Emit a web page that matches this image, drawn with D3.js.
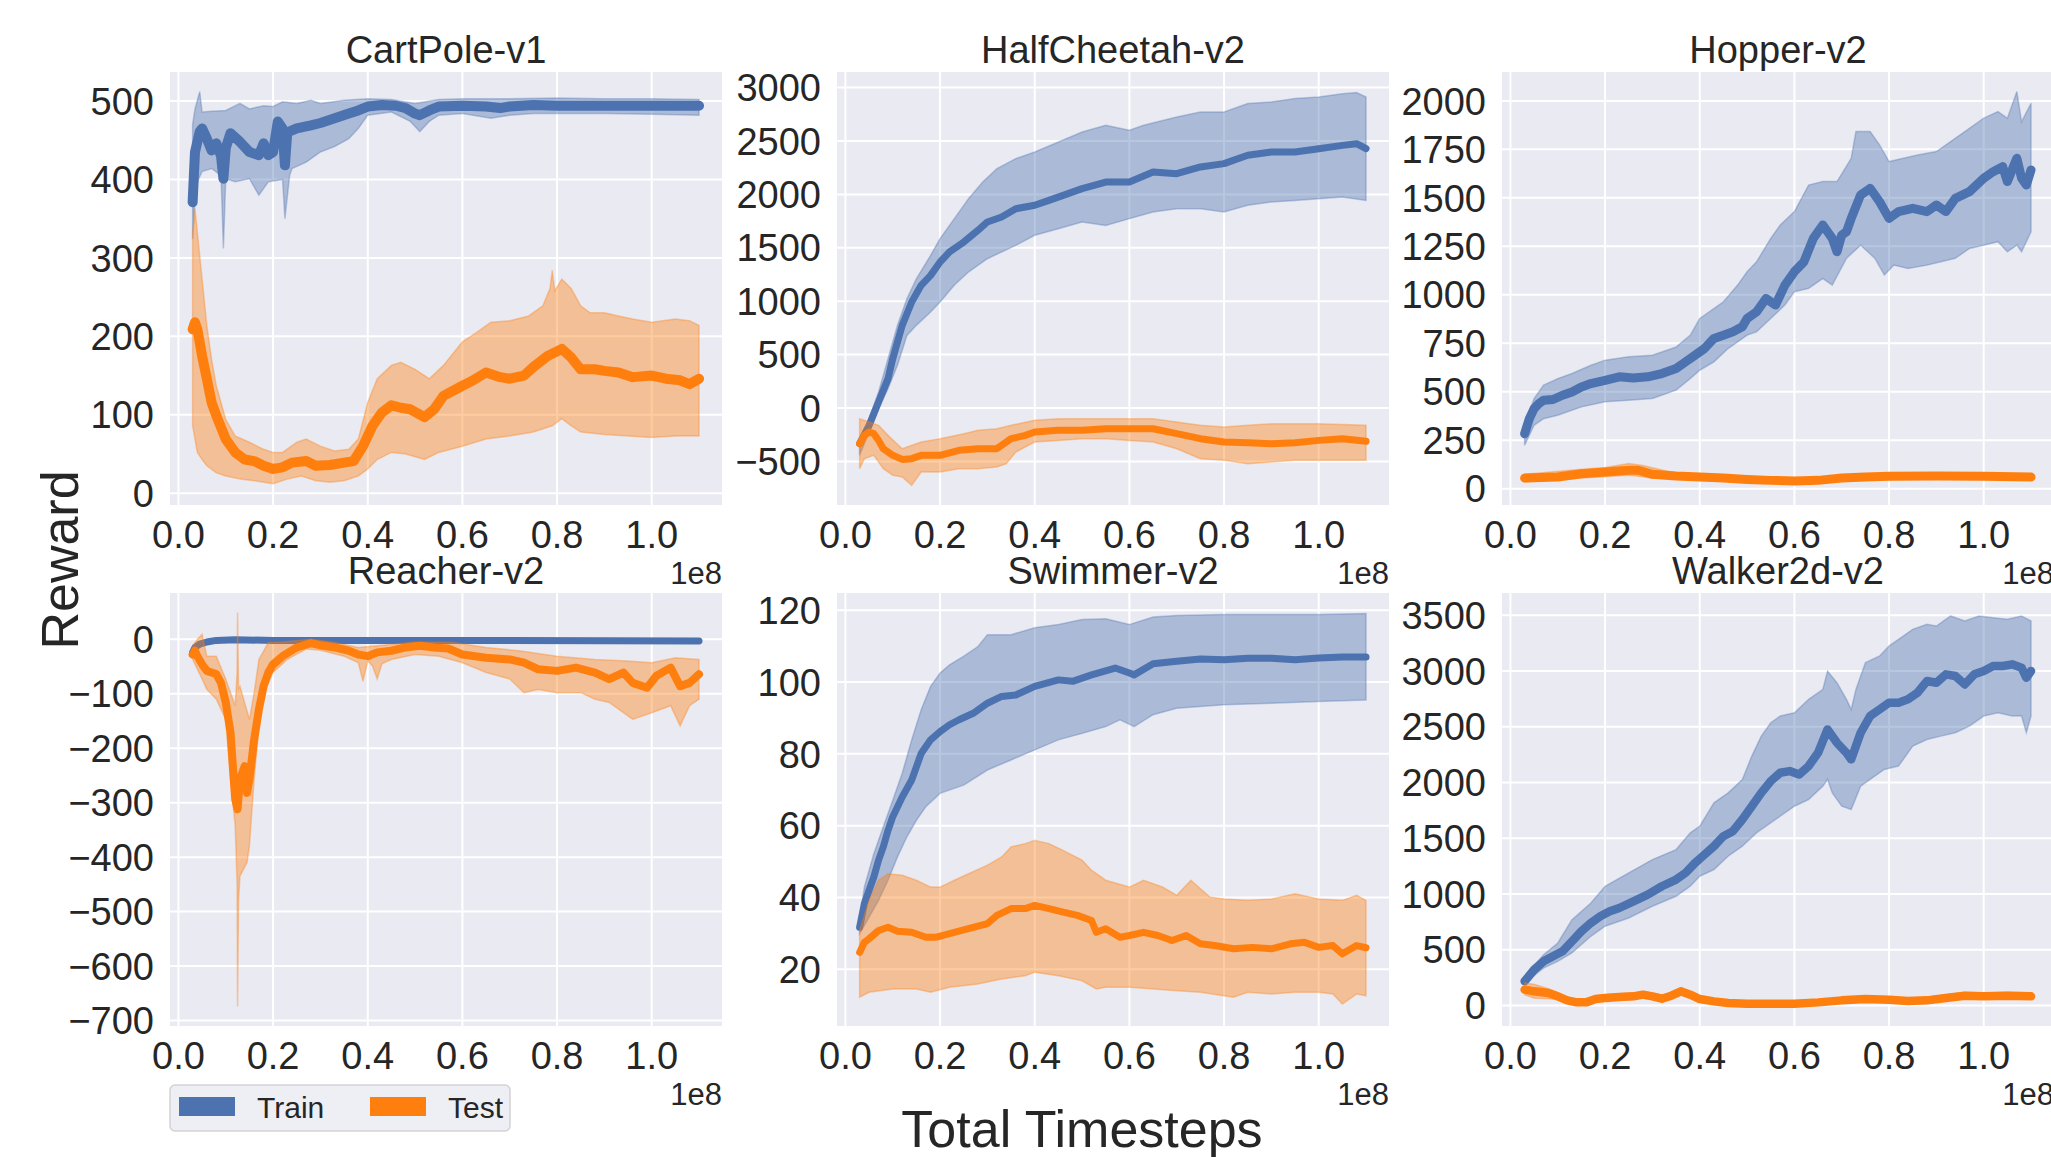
<!DOCTYPE html>
<html>
<head>
<meta charset="utf-8">
<script src="https://cdn.jsdelivr.net/npm/d3@7/dist/d3.min.js"></script>
<style>
  body { margin: 0; background: #fff; }
  text { font-family: "Liberation Sans", Arial, sans-serif; fill: #262626; }
</style>
</head>
<body>
<div id="chart"></div>
<script>
// x values are total timesteps in units of 1e8, y values are rewards

// CartPole-v1
const cartTrainMean = [[0.03,371],[0.035,435],[0.045,461],[0.05,465],[0.06,452],[0.07,437],[0.08,446],[0.09,430],[0.095,401],[0.1,440],[0.11,459],[0.13,448],[0.15,435],[0.17,431],[0.18,446],[0.19,431],[0.2,435],[0.21,474],[0.22,465],[0.225,418],[0.23,460],[0.25,465],[0.28,469],[0.3,472],[0.33,478],[0.36,484],[0.38,488],[0.4,493],[0.43,495],[0.46,494],[0.48,491],[0.5,484],[0.51,482],[0.53,488],[0.55,493],[0.6,494],[0.65,493],[0.68,491],[0.7,493],[0.75,495],[0.8,494],[0.9,494],[1.0,494],[1.1,494]];
const cartTrainHi = [[0.03,470],[0.035,490],[0.045,512],[0.05,486],[0.07,487],[0.1,488],[0.13,497],[0.15,490],[0.18,494],[0.2,493],[0.22,499],[0.25,497],[0.28,501],[0.3,497],[0.35,501],[0.4,503],[0.45,502],[0.5,497],[0.55,502],[0.6,503],[0.7,503],[0.8,504],[0.9,503],[1.0,503],[1.1,502]];
const cartTrainLo = [[0.03,324],[0.035,376],[0.04,397],[0.05,410],[0.07,414],[0.09,405],[0.095,312],[0.1,401],[0.12,397],[0.15,401],[0.17,380],[0.19,397],[0.22,400],[0.225,350],[0.235,405],[0.24,414],[0.27,422],[0.3,435],[0.33,442],[0.36,452],[0.38,465],[0.4,482],[0.45,486],[0.49,474],[0.51,461],[0.53,474],[0.55,482],[0.6,484],[0.66,478],[0.7,482],[0.75,484],[0.8,484],[0.9,484],[1.0,483],[1.1,482]];
const cartTestMean = [[0.03,209],[0.035,218],[0.04,209],[0.05,175],[0.06,146],[0.07,116],[0.08,99],[0.1,69],[0.12,52],[0.14,43],[0.16,41],[0.18,35],[0.2,31],[0.22,33],[0.24,39],[0.27,41],[0.29,35],[0.32,36],[0.35,39],[0.37,41],[0.39,60],[0.41,86],[0.43,103],[0.45,112],[0.47,109],[0.49,107],[0.52,97],[0.54,107],[0.56,124],[0.6,137],[0.62,143],[0.65,154],[0.68,148],[0.7,146],[0.73,150],[0.75,161],[0.78,175],[0.81,184],[0.83,173],[0.85,158],[0.88,158],[0.9,156],[0.93,154],[0.96,148],[1.0,150],[1.03,146],[1.06,144],[1.08,139],[1.1,146]];
const cartTestHi = [[0.03,333],[0.035,363],[0.04,333],[0.05,273],[0.06,214],[0.07,171],[0.08,137],[0.1,94],[0.12,73],[0.15,65],[0.18,56],[0.2,52],[0.22,52],[0.25,65],[0.27,69],[0.3,60],[0.33,54],[0.36,56],[0.38,69],[0.4,116],[0.42,146],[0.45,163],[0.47,167],[0.5,158],[0.53,146],[0.56,163],[0.6,193],[0.63,205],[0.66,218],[0.7,220],[0.74,226],[0.77,239],[0.785,261],[0.79,284],[0.795,258],[0.81,273],[0.83,261],[0.85,239],[0.87,230],[0.9,230],[0.93,226],[0.96,222],[1.0,218],[1.05,222],[1.08,220],[1.1,214]];
const cartTestLo = [[0.03,86],[0.035,69],[0.04,52],[0.05,43],[0.06,35],[0.08,26],[0.1,22],[0.13,18],[0.16,16],[0.2,12],[0.23,18],[0.26,22],[0.29,16],[0.32,14],[0.35,16],[0.38,22],[0.4,31],[0.42,43],[0.45,52],[0.48,50],[0.52,43],[0.55,52],[0.6,60],[0.65,69],[0.7,73],[0.75,78],[0.79,86],[0.81,95],[0.83,86],[0.85,78],[0.9,75],[0.95,73],[1.0,71],[1.05,73],[1.1,73]];

// HalfCheetah-v2
const cheetahTrainMean = [[0.03,-334],[0.05,-162],[0.07,56],[0.09,275],[0.1,462],[0.11,618],[0.12,774],[0.14,993],[0.16,1149],[0.18,1242],[0.2,1367],[0.22,1461],[0.25,1554],[0.28,1664],[0.3,1742],[0.33,1788],[0.36,1866],[0.4,1898],[0.43,1944],[0.46,1991],[0.5,2054],[0.55,2116],[0.6,2116],[0.65,2210],[0.7,2194],[0.75,2257],[0.8,2288],[0.85,2366],[0.9,2397],[0.95,2397],[1.0,2428],[1.05,2459],[1.08,2475],[1.1,2428]];
const cheetahTrainHi = [[0.03,-334],[0.05,-100],[0.07,150],[0.09,462],[0.11,774],[0.13,1024],[0.15,1211],[0.18,1430],[0.2,1586],[0.23,1773],[0.26,1960],[0.29,2116],[0.32,2241],[0.36,2335],[0.4,2397],[0.45,2491],[0.5,2584],[0.55,2647],[0.6,2600],[0.63,2647],[0.7,2725],[0.75,2772],[0.8,2772],[0.85,2850],[0.9,2865],[0.95,2897],[1.0,2912],[1.05,2943],[1.08,2953],[1.1,2912]];
const cheetahTrainLo = [[0.03,-443],[0.05,-225],[0.07,-6],[0.09,181],[0.11,400],[0.13,680],[0.15,774],[0.18,899],[0.2,993],[0.23,1149],[0.26,1273],[0.3,1398],[0.33,1461],[0.36,1523],[0.4,1617],[0.45,1679],[0.5,1742],[0.55,1710],[0.6,1773],[0.65,1835],[0.7,1866],[0.75,1866],[0.8,1835],[0.85,1898],[0.9,1929],[0.95,1944],[1.0,1960],[1.05,1976],[1.1,1944]];
const cheetahTestMean = [[0.03,-334],[0.04,-256],[0.05,-225],[0.06,-240],[0.07,-303],[0.08,-381],[0.1,-443],[0.12,-481],[0.14,-474],[0.16,-443],[0.2,-443],[0.24,-396],[0.28,-381],[0.32,-381],[0.35,-287],[0.38,-256],[0.4,-225],[0.45,-209],[0.5,-209],[0.55,-194],[0.6,-194],[0.65,-194],[0.7,-240],[0.75,-287],[0.8,-318],[0.85,-325],[0.9,-334],[0.95,-325],[1.0,-303],[1.05,-287],[1.1,-312]];
const cheetahTestHi = [[0.03,-100],[0.05,-131],[0.07,-162],[0.09,-256],[0.12,-381],[0.16,-318],[0.2,-287],[0.25,-240],[0.28,-209],[0.32,-194],[0.35,-162],[0.4,-115],[0.45,-100],[0.55,-100],[0.6,-100],[0.65,-100],[0.7,-131],[0.75,-162],[0.8,-178],[0.85,-162],[0.9,-147],[0.95,-147],[1.0,-147],[1.1,-162]];
const cheetahTestLo = [[0.03,-568],[0.04,-474],[0.06,-443],[0.08,-568],[0.1,-630],[0.12,-646],[0.14,-724],[0.16,-599],[0.2,-599],[0.24,-568],[0.28,-568],[0.32,-552],[0.34,-521],[0.36,-412],[0.4,-318],[0.45,-303],[0.5,-287],[0.55,-287],[0.6,-303],[0.65,-318],[0.7,-381],[0.75,-474],[0.8,-490],[0.85,-521],[0.9,-506],[0.95,-490],[1.0,-490],[1.1,-490]];

// Hopper-v2
const hopperTrainMean = [[0.03,284],[0.04,361],[0.05,413],[0.06,439],[0.07,456],[0.09,460],[0.11,482],[0.13,499],[0.15,525],[0.17,542],[0.2,559],[0.23,577],[0.26,571],[0.29,577],[0.32,594],[0.35,620],[0.37,654],[0.39,688],[0.41,723],[0.43,775],[0.45,792],[0.47,809],[0.49,835],[0.5,878],[0.52,912],[0.54,981],[0.56,947],[0.58,1050],[0.6,1119],[0.62,1170],[0.64,1291],[0.66,1360],[0.68,1291],[0.69,1222],[0.7,1308],[0.71,1325],[0.72,1394],[0.74,1515],[0.76,1549],[0.78,1480],[0.8,1394],[0.82,1429],[0.85,1446],[0.88,1429],[0.9,1463],[0.92,1429],[0.94,1497],[0.97,1532],[1.0,1601],[1.02,1635],[1.04,1661],[1.05,1584],[1.07,1704],[1.08,1601],[1.09,1566],[1.1,1644]];
const hopperTrainHi = [[0.03,327],[0.05,465],[0.07,534],[0.1,568],[0.13,594],[0.17,637],[0.2,663],[0.25,680],[0.3,688],[0.35,731],[0.38,792],[0.4,878],[0.45,964],[0.48,1050],[0.5,1119],[0.52,1170],[0.55,1291],[0.57,1360],[0.6,1429],[0.63,1566],[0.66,1584],[0.69,1584],[0.72,1704],[0.73,1842],[0.76,1842],[0.78,1773],[0.8,1687],[0.83,1704],[0.86,1721],[0.9,1739],[0.93,1790],[0.96,1842],[1.0,1911],[1.03,1945],[1.05,1911],[1.07,2048],[1.08,1893],[1.1,1988]];
const hopperTrainLo = [[0.03,224],[0.05,327],[0.07,361],[0.1,379],[0.15,422],[0.2,448],[0.25,456],[0.3,465],[0.35,508],[0.38,568],[0.4,611],[0.43,654],[0.46,723],[0.48,757],[0.5,792],[0.52,809],[0.55,878],[0.58,947],[0.6,1016],[0.63,1033],[0.66,1084],[0.68,1050],[0.71,1188],[0.74,1256],[0.77,1188],[0.79,1102],[0.81,1153],[0.84,1136],[0.88,1153],[0.91,1170],[0.94,1188],[0.97,1239],[1.0,1256],[1.03,1274],[1.05,1222],[1.07,1256],[1.08,1222],[1.1,1325]];
const hopperTestMean = [[0.03,55],[0.1,60],[0.15,77],[0.2,86],[0.25,95],[0.27,95],[0.3,74],[0.35,65],[0.4,60],[0.45,55],[0.5,48],[0.55,43],[0.6,40],[0.65,43],[0.7,55],[0.75,60],[0.8,64],[0.9,65],[1.0,64],[1.1,60]];
const hopperTestHi = [[0.03,75],[0.15,100],[0.2,110],[0.25,130],[0.28,120],[0.35,80],[0.5,60],[0.6,50],[0.7,68],[0.8,78],[0.9,80],[1.0,80],[1.1,75]];
const hopperTestLo = [[0.03,35],[0.15,55],[0.2,62],[0.25,70],[0.3,55],[0.4,45],[0.5,35],[0.6,30],[0.7,42],[0.8,48],[0.9,50],[1.0,48],[1.1,45]];

// Reacher-v2
const reacherTrainMean = [[0.03,-24],[0.035,-15],[0.045,-9],[0.06,-5],[0.08,-2],[0.12,-1],[0.2,-2],[0.6,-2],[1.1,-3]];
const reacherTrainHi = [[0.03,-20],[0.035,-12],[0.045,-7],[0.06,-3],[0.08,-1],[0.12,0],[0.2,-1],[0.6,-1],[1.1,-2]];
const reacherTrainLo = [[0.03,-30],[0.035,-19],[0.045,-12],[0.06,-7],[0.08,-4],[0.12,-3],[0.2,-3],[0.6,-3],[1.1,-4]];
const reacherTestMean = [[0.03,-28],[0.035,-21],[0.04,-31],[0.05,-46],[0.06,-58],[0.07,-61],[0.08,-64],[0.09,-80],[0.1,-116],[0.11,-171],[0.12,-294],[0.125,-312],[0.13,-257],[0.14,-233],[0.145,-282],[0.15,-257],[0.16,-184],[0.17,-129],[0.18,-86],[0.19,-61],[0.2,-46],[0.22,-31],[0.25,-15],[0.28,-7],[0.3,-11],[0.33,-15],[0.36,-21],[0.38,-28],[0.4,-31],[0.42,-24],[0.45,-21],[0.48,-15],[0.51,-12],[0.54,-15],[0.57,-17],[0.6,-28],[0.65,-34],[0.7,-37],[0.73,-43],[0.76,-55],[0.8,-58],[0.84,-52],[0.88,-61],[0.91,-73],[0.94,-61],[0.96,-80],[0.99,-89],[1.01,-67],[1.04,-52],[1.06,-86],[1.08,-80],[1.1,-64]];
const reacherTestHi = [[0.03,-12],[0.04,0],[0.05,9],[0.06,-31],[0.08,-31],[0.1,-73],[0.12,-122],[0.124,-60],[0.125,49],[0.127,-90],[0.13,-86],[0.15,-147],[0.16,-98],[0.17,-37],[0.19,-6],[0.22,-5],[0.28,0],[0.33,-6],[0.38,-15],[0.42,-12],[0.5,-5],[0.58,-6],[0.65,-15],[0.72,-21],[0.8,-31],[0.88,-37],[0.95,-40],[1.0,-43],[1.05,-34],[1.1,-37]];
const reacherTestLo = [[0.03,-37],[0.04,-55],[0.05,-73],[0.06,-92],[0.08,-110],[0.1,-147],[0.11,-257],[0.12,-343],[0.124,-450],[0.125,-674],[0.127,-480],[0.13,-435],[0.145,-410],[0.15,-380],[0.16,-257],[0.17,-159],[0.18,-98],[0.2,-61],[0.23,-37],[0.27,-18],[0.3,-20],[0.35,-31],[0.38,-43],[0.39,-77],[0.4,-40],[0.41,-49],[0.42,-73],[0.43,-45],[0.45,-37],[0.5,-28],[0.55,-31],[0.6,-43],[0.65,-61],[0.7,-73],[0.73,-98],[0.76,-92],[0.8,-98],[0.85,-98],[0.88,-110],[0.91,-116],[0.96,-147],[1.0,-135],[1.04,-122],[1.06,-159],[1.08,-122],[1.1,-110]];

// Swimmer-v2
const swimmerTrainMean = [[0.03,31.7],[0.04,38.3],[0.05,42],[0.06,45.7],[0.07,50.4],[0.08,54.1],[0.09,58.7],[0.1,62.5],[0.12,68],[0.14,72.7],[0.16,80.1],[0.18,83.9],[0.2,86.2],[0.22,88.1],[0.24,89.5],[0.27,91.3],[0.3,94.1],[0.33,96],[0.36,96.4],[0.4,98.8],[0.45,100.6],[0.48,100.2],[0.52,102],[0.57,103.9],[0.6,102.5],[0.61,102],[0.65,105.1],[0.7,105.8],[0.75,106.4],[0.8,106.2],[0.85,106.6],[0.9,106.6],[0.95,106.2],[1.0,106.7],[1.05,107],[1.1,107]];
const swimmerTrainHi = [[0.03,33.6],[0.04,42.9],[0.06,52.2],[0.08,59.7],[0.1,67.1],[0.12,74.6],[0.14,83.9],[0.16,92.3],[0.18,98.8],[0.2,102.5],[0.22,104.8],[0.25,107.2],[0.28,109.9],[0.3,113.2],[0.35,113.2],[0.4,115.1],[0.45,116],[0.5,117.4],[0.55,117.6],[0.6,116],[0.65,118.1],[0.7,118.5],[0.8,118.8],[0.9,118.8],[1.0,118.8],[1.1,119.1]];
const swimmerTrainLo = [[0.03,29.9],[0.05,34.5],[0.07,39.2],[0.09,44.8],[0.11,51.3],[0.13,56.9],[0.15,61.5],[0.17,65.3],[0.2,69],[0.25,71.3],[0.3,75.5],[0.35,78.3],[0.4,81.1],[0.45,83.9],[0.5,85.7],[0.55,87.6],[0.58,89.5],[0.61,87.6],[0.65,90.9],[0.7,92.7],[0.75,93.2],[0.8,93.7],[0.9,94.1],[1.0,94.6],[1.1,95]];
const swimmerTestMean = [[0.03,24.7],[0.04,27.5],[0.05,28.5],[0.07,30.8],[0.09,31.7],[0.11,30.6],[0.14,30.3],[0.17,28.9],[0.19,28.9],[0.22,29.9],[0.26,31.3],[0.3,32.7],[0.32,35],[0.35,36.9],[0.38,36.9],[0.4,37.8],[0.43,36.9],[0.46,35.9],[0.49,35],[0.52,33.6],[0.53,30.3],[0.55,31.3],[0.58,28.9],[0.6,29.4],[0.63,30.3],[0.66,29.4],[0.69,28],[0.72,29.4],[0.75,27.1],[0.78,26.6],[0.82,25.7],[0.86,26.1],[0.9,25.7],[0.94,27.1],[0.97,27.5],[1.0,26.1],[1.03,26.6],[1.05,24.3],[1.08,26.6],[1.1,26]];
const swimmerTestHi = [[0.03,30.8],[0.05,39.2],[0.07,44.8],[0.09,46.6],[0.12,46.2],[0.15,44.8],[0.18,42.9],[0.2,42.9],[0.23,44.8],[0.26,46.6],[0.3,49],[0.33,51.3],[0.35,54.1],[0.38,55],[0.4,55.9],[0.43,55],[0.46,53.1],[0.5,50.4],[0.52,47.6],[0.55,44.8],[0.6,42.9],[0.63,44.8],[0.67,42.9],[0.7,40.6],[0.73,44.8],[0.77,40.1],[0.8,39.6],[0.85,39.2],[0.9,39.6],[0.95,41],[1.0,39.6],[1.05,39.2],[1.08,40.6],[1.1,39.2]];
const swimmerTestLo = [[0.03,12.2],[0.05,13.6],[0.1,14.5],[0.15,14.5],[0.18,13.6],[0.22,15],[0.28,15.9],[0.33,17.3],[0.38,18.2],[0.4,19.2],[0.45,18.2],[0.5,16.8],[0.53,14.5],[0.55,15],[0.6,15],[0.65,14.5],[0.7,14],[0.75,13.6],[0.82,12.2],[0.85,13.6],[0.9,13.1],[0.95,13.6],[1.0,13.6],[1.03,13.1],[1.05,10.3],[1.08,13.1],[1.1,12.6]];

// Walker2d-v2
const walkerTrainMean = [[0.03,216],[0.05,320],[0.07,395],[0.09,440],[0.11,485],[0.13,575],[0.15,665],[0.17,740],[0.19,799],[0.21,844],[0.23,874],[0.26,934],[0.29,994],[0.32,1069],[0.35,1129],[0.37,1189],[0.39,1278],[0.41,1353],[0.43,1428],[0.45,1518],[0.47,1563],[0.49,1668],[0.51,1787],[0.53,1907],[0.55,2012],[0.57,2087],[0.59,2102],[0.61,2072],[0.63,2147],[0.65,2266],[0.67,2476],[0.69,2356],[0.71,2266],[0.72,2207],[0.74,2446],[0.76,2596],[0.78,2656],[0.8,2716],[0.82,2716],[0.84,2746],[0.86,2805],[0.88,2910],[0.9,2895],[0.92,2970],[0.94,2955],[0.96,2880],[0.98,2970],[1.0,3000],[1.02,3045],[1.04,3045],[1.06,3060],[1.08,3030],[1.09,2940],[1.1,3000]];
const walkerTrainHi = [[0.03,260],[0.07,455],[0.1,560],[0.13,769],[0.17,919],[0.2,1069],[0.25,1189],[0.3,1308],[0.35,1398],[0.38,1548],[0.4,1608],[0.43,1817],[0.46,1907],[0.49,2027],[0.51,2237],[0.53,2416],[0.55,2536],[0.57,2596],[0.6,2626],[0.63,2746],[0.66,2835],[0.67,3000],[0.69,2895],[0.71,2746],[0.72,2656],[0.73,2835],[0.75,3075],[0.78,3135],[0.8,3225],[0.82,3284],[0.85,3374],[0.88,3419],[0.9,3404],[0.93,3494],[0.96,3449],[0.99,3494],[1.02,3479],[1.05,3464],[1.08,3494],[1.1,3449]];
const walkerTrainLo = [[0.03,201],[0.07,335],[0.1,395],[0.13,470],[0.17,620],[0.2,710],[0.25,784],[0.3,889],[0.35,979],[0.38,1069],[0.4,1159],[0.43,1218],[0.46,1338],[0.49,1428],[0.52,1548],[0.55,1638],[0.57,1697],[0.6,1787],[0.63,1847],[0.66,1967],[0.67,2027],[0.68,1907],[0.7,1787],[0.72,1757],[0.74,1967],[0.76,2027],[0.79,2117],[0.82,2147],[0.85,2326],[0.88,2386],[0.91,2416],[0.94,2446],[0.97,2506],[1.0,2596],[1.03,2626],[1.06,2596],[1.08,2596],[1.09,2446],[1.1,2596]];
const walkerTestMean = [[0.03,141],[0.05,126],[0.08,111],[0.1,81],[0.12,45],[0.14,27],[0.16,27],[0.18,57],[0.2,66],[0.23,75],[0.26,81],[0.28,96],[0.3,81],[0.32,60],[0.34,87],[0.36,126],[0.38,96],[0.4,57],[0.43,36],[0.46,21],[0.5,15],[0.55,15],[0.6,15],[0.65,27],[0.7,45],[0.75,57],[0.8,51],[0.84,39],[0.88,45],[0.92,66],[0.96,87],[1.0,81],[1.05,87],[1.1,81]];
const walkerTestHi = [[0.03,200],[0.05,190],[0.08,150],[0.1,115],[0.12,75],[0.14,55],[0.16,55],[0.18,85],[0.2,95],[0.23,105],[0.26,110],[0.28,125],[0.3,110],[0.32,90],[0.34,115],[0.36,155],[0.38,125],[0.4,85],[0.43,60],[0.46,42],[0.5,35],[0.55,35],[0.6,35],[0.65,50],[0.7,70],[0.75,85],[0.8,78],[0.84,65],[0.88,72],[0.92,95],[0.96,118],[1.0,110],[1.05,118],[1.1,112]];
const walkerTestLo = [[0.03,95],[0.05,65],[0.08,60],[0.1,50],[0.12,20],[0.14,5],[0.16,5],[0.18,30],[0.2,40],[0.23,48],[0.26,52],[0.28,68],[0.3,55],[0.32,30],[0.34,60],[0.36,95],[0.38,68],[0.4,32],[0.43,15],[0.46,3],[0.5,0],[0.55,0],[0.6,0],[0.65,8],[0.7,22],[0.75,32],[0.8,28],[0.84,15],[0.88,20],[0.92,40],[0.96,60],[1.0,55],[1.05,60],[1.1,55]];

// panel titles, y tick values and y ranges
const titles = ["CartPole-v1", "HalfCheetah-v2", "Hopper-v2", "Reacher-v2", "Swimmer-v2", "Walker2d-v2"];
const yTickSets = [
    [0, 100, 200, 300, 400, 500],
    [-500, 0, 500, 1000, 1500, 2000, 2500, 3000],
    [0, 250, 500, 750, 1000, 1250, 1500, 1750, 2000],
    [-700, -600, -500, -400, -300, -200, -100, 0],
    [20, 40, 60, 80, 100, 120],
    [0, 500, 1000, 1500, 2000, 2500, 3000, 3500]
];
const yRanges = [[-15, 537], [-908, 3146], [-84, 2149], [-710, 85], [4.2, 124.8], [-185, 3700]];
const xTicks = [0.0, 0.2, 0.4, 0.6, 0.8, 1.0];
const xRange = [-0.0178, 1.1485];
const seriesNames = ["Train", "Test"];

const panels = [
    {train: [cartTrainMean, cartTrainHi, cartTrainLo], test: [cartTestMean, cartTestHi, cartTestLo]},
    {train: [cheetahTrainMean, cheetahTrainHi, cheetahTrainLo], test: [cheetahTestMean, cheetahTestHi, cheetahTestLo]},
    {train: [hopperTrainMean, hopperTrainHi, hopperTrainLo], test: [hopperTestMean, hopperTestHi, hopperTestLo]},
    {train: [reacherTrainMean, reacherTrainHi, reacherTrainLo], test: [reacherTestMean, reacherTestHi, reacherTestLo]},
    {train: [swimmerTrainMean, swimmerTrainHi, swimmerTrainLo], test: [swimmerTestMean, swimmerTestHi, swimmerTestLo]},
    {train: [walkerTrainMean, walkerTrainHi, walkerTrainLo], test: [walkerTestMean, walkerTestHi, walkerTestLo]}
];

// layout
const width = 2051, height = 1157;
const colLeft = [170, 837, 1502], rowTop = [72, 593];
const plotW = 552, plotH = 433;
const colors = {Train: "#4c72b0", Test: "#ff7f0e"};
const bg = "#eaeaf2";
// noisy runs look thicker in the original, so the mean line width varies by panel
const lineWidths = [10, 7, 9, 8, 7, 8.5];

const svg = d3.select("#chart")
    .append("svg")
    .attr("width", width)
    .attr("height", height);

const fmtY = d3.format("d");
const fmtX = d3.format(".1f");

panels.forEach((p, i) => {
    const left = colLeft[i % 3], top = rowTop[Math.floor(i / 3)];

    const x = d3.scaleLinear().domain(xRange).range([0, plotW]);
    const y = d3.scaleLinear().domain(yRanges[i]).range([plotH, 0]);

    const g = svg.append("g").attr("transform", `translate(${left},${top})`);

    g.append("clipPath").attr("id", "clip" + i)
        .append("rect").attr("width", plotW).attr("height", plotH);

    g.append("rect")
        .attr("width", plotW)
        .attr("height", plotH)
        .attr("fill", bg);

    // grid
    g.selectAll(".gx").data(xTicks).enter().append("line")
        .attr("x1", d => x(d)).attr("x2", d => x(d))
        .attr("y1", 0).attr("y2", plotH)
        .attr("stroke", "#fff").attr("stroke-width", 2);
    g.selectAll(".gy").data(yTickSets[i]).enter().append("line")
        .attr("x1", 0).attr("x2", plotW)
        .attr("y1", d => y(d)).attr("y2", d => y(d))
        .attr("stroke", "#fff").attr("stroke-width", 2);

    const plot = g.append("g").attr("clip-path", `url(#clip${i})`);
    const line = d3.line().x(d => x(d[0])).y(d => y(d[1]));

    // bands and mean lines
    seriesNames.forEach(name => {
        const [mean, hi, lo] = name === "Train" ? p.train : p.test;
        const band = hi.concat(lo.slice().reverse());
        plot.append("path")
            .attr("d", line(band) + "Z")
            .attr("fill", colors[name])
            .attr("fill-opacity", 0.4)
            .attr("stroke", colors[name])
            .attr("stroke-opacity", 0.35)
            .attr("stroke-width", 1.5);
        plot.append("path")
            .attr("d", line(mean))
            .attr("fill", "none")
            .attr("stroke", colors[name])
            .attr("stroke-width", name === "Train" && i === 3 ? 7 : lineWidths[i])
            .attr("stroke-linejoin", "round")
            .attr("stroke-linecap", "round");
    });

    // tick labels
    g.selectAll(".ty").data(yTickSets[i]).enter().append("text")
        .attr("x", -16)
        .attr("y", d => y(d))
        .attr("dy", "0.36em")
        .attr("text-anchor", "end")
        .style("font-size", "38px")
        .text(d => fmtY(d));
    g.selectAll(".tx").data(xTicks).enter().append("text")
        .attr("x", d => x(d))
        .attr("y", plotH + 43)
        .attr("text-anchor", "middle")
        .style("font-size", "38px")
        .text(d => fmtX(d));

    // offset text
    g.append("text")
        .attr("x", plotW)
        .attr("y", plotH + 79)
        .attr("text-anchor", "end")
        .style("font-size", "31px")
        .text("1e8");

    // title
    g.append("text")
        .attr("x", plotW / 2)
        .attr("y", -9)
        .attr("text-anchor", "middle")
        .style("font-size", "38px")
        .text(titles[i]);
});

// axis labels
svg.append("text")
    .attr("transform", "translate(78,560) rotate(-90)")
    .attr("text-anchor", "middle")
    .style("font-size", "52px")
    .text("Reward");

svg.append("text")
    .attr("x", 1082)
    .attr("y", 1147)
    .attr("text-anchor", "middle")
    .style("font-size", "52px")
    .text("Total Timesteps");

// legend
const legend = svg.append("g").attr("transform", "translate(170,1085)");
legend.append("rect")
    .attr("width", 340).attr("height", 46)
    .attr("rx", 5)
    .attr("fill", "#eeeef5")
    .attr("stroke", "#d3d3d3")
    .attr("stroke-width", 1.5);
const items = legend.selectAll(".item").data(seriesNames).enter().append("g")
    .attr("transform", (d, i) => `translate(${9 + i * 191},0)`);
items.append("rect")
    .attr("y", 12).attr("width", 56).attr("height", 19)
    .attr("fill", d => colors[d]);
items.append("text")
    .attr("x", 78).attr("y", 22)
    .attr("dy", "0.36em")
    .style("font-size", "30px")
    .text(d => d);
</script>
</body>
</html>
